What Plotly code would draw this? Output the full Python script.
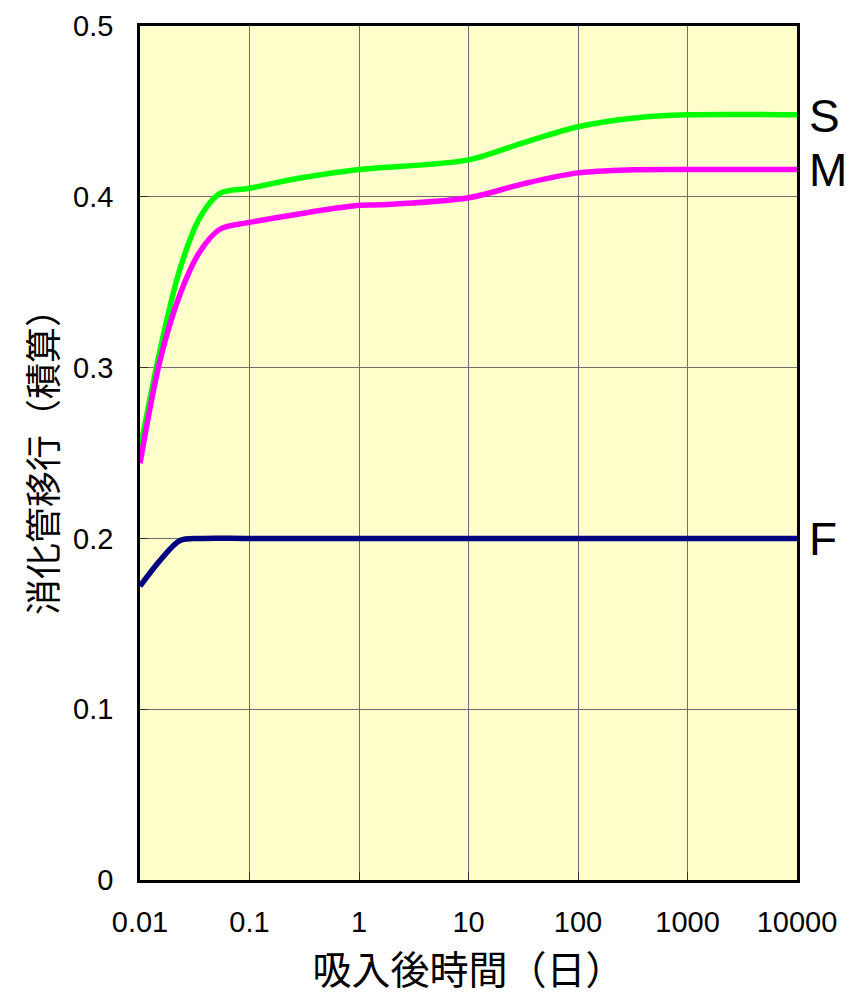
import plotly.graph_objects as go

# Time after intake (days) and cumulative GI-tract transfer for each class
days_s = [0.01, 0.0152, 0.0232, 0.0353, 0.0537, 0.1, 0.289, 1, 1.56, 10, 31.5, 100, 316, 1000, 10000]
s_vals = [0.252, 0.31, 0.358, 0.388, 0.402, 0.405, 0.411, 0.416, 0.417, 0.4216, 0.4316, 0.441, 0.446, 0.448, 0.448]

days_m = [0.01, 0.0152, 0.0232, 0.0353, 0.0537, 0.1, 1, 1.56, 10, 31.5, 100, 316, 1000, 10000]
m_vals = [0.244, 0.304, 0.343, 0.368, 0.381, 0.385, 0.395, 0.3953, 0.3994, 0.4076, 0.414, 0.4158, 0.416, 0.416]

days_f = [0.01, 0.0152, 0.0232, 0.0353, 0.1, 1, 10, 100, 1000, 10000]
f_vals = [0.172, 0.187, 0.1988, 0.2, 0.2, 0.2, 0.2, 0.2, 0.2, 0.2]

series = [
    ("S", days_s, s_vals, "#00FF00"),
    ("M", days_m, m_vals, "#FF00FF"),
    ("F", days_f, f_vals, "#000080"),
]

x_ticks = [0.01, 0.1, 1, 10, 100, 1000, 10000]
x_tick_text = ["0.01", "0.1", "1", "10", "100", "1000", "10000"]
y_ticks = [0, 0.1, 0.2, 0.3, 0.4, 0.5]
y_tick_text = ["0", "0.1", "0.2", "0.3", "0.4", "0.5"]

CJK = "Noto Sans CJK JP"
LATIN = "Liberation Sans"

fig = go.Figure()
for name, xs, ys, color in series:
    fig.add_trace(go.Scatter(
        x=xs, y=ys, mode="lines", name=name,
        line=dict(color=color, width=5.5, shape="spline", smoothing=0.9),
        showlegend=False,
    ))
    fig.add_annotation(
        x=4, y=ys[-1], xref="x", yref="y", text=name, showarrow=False,
        xanchor="left", yanchor="middle", xshift=10, yshift=-1,
        font=dict(family=LATIN, size=46, color="black"),
    )

axis_common = dict(
    showline=True, linecolor="black", linewidth=2.5, mirror=True,
    showgrid=True, gridcolor="#6e6e6e", gridwidth=1,
    ticks="inside", ticklen=8, tickcolor="#333333",
    zeroline=False, automargin=False,
    tickfont=dict(family=LATIN, size=29, color="black"),
)

fig.update_xaxes(
    type="log", range=[-2, 4], tickvals=x_ticks, ticktext=x_tick_text,
    ticklabelstandoff=14,
    title=dict(text="吸入後時間（日）", font=dict(family=CJK, size=39, color="black"), standoff=22),
    **axis_common,
)
fig.update_yaxes(
    range=[0, 0.5], tickvals=y_ticks, ticktext=y_tick_text,
    ticklabelstandoff=18,
    title=dict(text="消化管移行（積算）", font=dict(family=CJK, size=36, color="black"), standoff=5),
    **axis_common,
)

fig.update_layout(
    width=850, height=995,
    margin=dict(l=140, r=53, t=26, b=115),
    paper_bgcolor="white", plot_bgcolor="#FFFFCC",
)

fig.write_html("out.html")
